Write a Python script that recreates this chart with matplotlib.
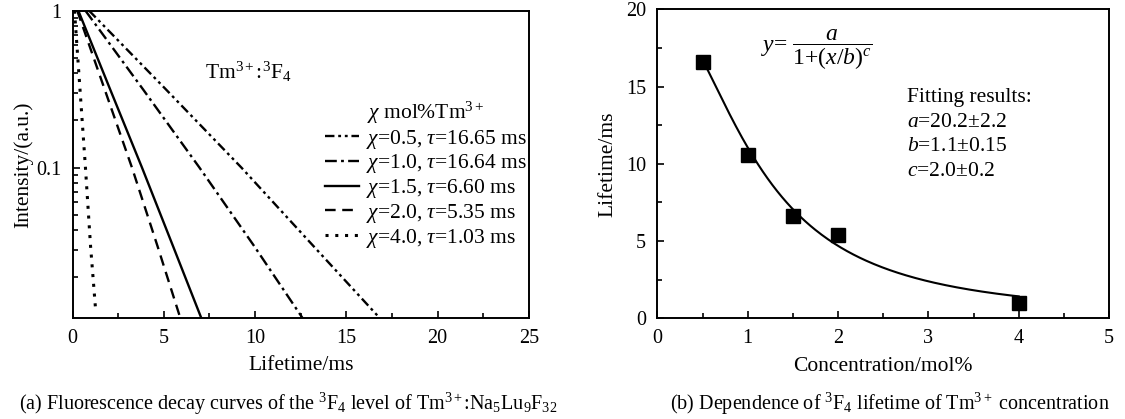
import numpy as np
import matplotlib
matplotlib.use('Agg')
import matplotlib.pyplot as plt
from matplotlib.ticker import LogLocator, NullFormatter, FixedLocator, FixedFormatter, MultipleLocator

plt.rcParams['font.family'] = ['Liberation Serif', 'DejaVu Serif']
plt.rcParams['mathtext.fontset'] = 'custom'
plt.rcParams['mathtext.rm'] = 'Liberation Serif'
plt.rcParams['mathtext.it'] = 'Liberation Serif:italic'
plt.rcParams['mathtext.bf'] = 'Liberation Serif:bold'
plt.rcParams['font.size'] = 15.5
plt.rcParams['xtick.labelsize'] = 14.5
plt.rcParams['ytick.labelsize'] = 14.5
plt.rcParams['axes.linewidth'] = 1.4

# decay curves: time (ms) at each intensity level
levels = [1.0, 0.316, 0.1, 0.0316, 0.011]
levels_x4 = [1.0, 0.316, 0.1, 0.0316, 0.0123]
t_x05 = [0.9, 5.1, 9.25, 13.2, 16.83]
t_x10 = [0.7, 3.85, 6.95, 9.95, 12.6]
t_x15 = [0.31, 2.05, 3.8, 5.5, 7.05]
t_x20 = [0.25, 1.75, 3.25, 4.65, 5.9]
t_x40 = [0.1, 0.4, 0.7, 0.98, 1.26]
decay_labels = [r'$\chi$=0.5, $\tau$=16.65 ms',
                r'$\chi$=1.0, $\tau$=16.64 ms',
                r'$\chi$=1.5, $\tau$=6.60 ms',
                r'$\chi$=2.0, $\tau$=5.35 ms',
                r'$\chi$=4.0, $\tau$=1.03 ms']

# lifetime vs concentration
conc = [0.5, 1.0, 1.5, 2.0, 4.0]
lifetime = [16.6, 10.6, 6.6, 5.4, 1.0]
fit_a, fit_b, fit_c = 20.2, 1.1, 2.0

fig = plt.figure(figsize=(11.25, 4.19), dpi=100)
ax1 = fig.add_axes([0.0646, 0.241, 0.4054, 0.7335])
ax2 = fig.add_axes([0.5843, 0.2403, 0.4015, 0.7375])

styles = [(0, (4, 1.6, 1.2, 1.6, 1.2, 1.6)),
          (0, (5, 1.8, 1.2, 1.8)),
          '-',
          (0, (4.5, 2.8)),
          (0, (1, 2.2))]
widths = [1.7, 1.7, 1.7, 1.7, 2.2]
curves = [(t_x05, levels), (t_x10, levels), (t_x15, levels),
          (t_x20, levels), (t_x40, levels_x4)]
for (t, I), ls, w, lab in zip(curves, styles, widths, decay_labels):
    ax1.plot(t, I, color='black', lw=w, linestyle=ls, label=lab)

ax1.set_yscale('log')
ax1.set_xlim(0, 25)
ax1.set_ylim(0.011, 1)
ax1.yaxis.set_major_locator(FixedLocator([0.1, 1]))
ax1.yaxis.set_major_formatter(FixedFormatter(['0.1', '1']))
ax1.yaxis.set_minor_locator(LogLocator(base=10, subs=np.arange(2, 10)))
ax1.yaxis.set_minor_formatter(NullFormatter())
ax1.xaxis.set_major_locator(MultipleLocator(5))
ax1.xaxis.set_minor_locator(MultipleLocator(2.5))
ax1.set_xlabel('Lifetime/ms', labelpad=6)
ax1.set_ylabel('Intensity/(a.u.)', labelpad=2)

ax1.text(7.25, 0.406, r'Tm$^{3+}$:$^3$F$_4$', ha='left', va='center')
leg = ax1.legend(loc='upper left', bbox_to_anchor=(0.529, 0.745), frameon=False,
                 title=r'$\chi$ mol%Tm$^{3+}$', handlelength=1.6,
                 handletextpad=0.3, labelspacing=0.08, borderpad=0,
                 title_fontsize=15.5, fontsize=15.5)

# fitted curve from the stated parameters
xf = np.linspace(conc[0], conc[-1], 200)
yf = fit_a / (1 + (xf / fit_b) ** fit_c)
ax2.plot(xf, yf, color='black', lw=1.5)
ax2.plot(conc, lifetime, 's', color='black', markersize=10)

ax2.set_xlim(0, 5)
ax2.set_ylim(0, 20)
ax2.xaxis.set_major_locator(MultipleLocator(1))
ax2.xaxis.set_minor_locator(MultipleLocator(0.5))
ax2.yaxis.set_major_locator(MultipleLocator(5))
ax2.yaxis.set_minor_locator(MultipleLocator(2.5))
ax2.set_xlabel('Concentration/mol%', labelpad=6)
ax2.set_ylabel('Lifetime/ms', labelpad=6)

ax2.text(1.15, 17.4, r'$y$= $\dfrac{a}{1{+}(x/b)^{c}}$', ha='left', va='center',
         fontsize=17)
ax2.text(2.76, 14.3, 'Fitting results:', ha='left', va='center')
ax2.text(2.76, 12.7, r'$a$=20.2±2.2', ha='left', va='center')
ax2.text(2.76, 11.1, r'$b$=1.1±0.15', ha='left', va='center')
ax2.text(2.76, 9.5, r'$c$=2.0±0.2', ha='left', va='center')

for ax in (ax1, ax2):
    ax.tick_params(which='both', direction='in', top=False, right=False, width=1.2)
    ax.tick_params(which='major', length=5, pad=8)
    ax.tick_params(which='minor', length=3.5)

fig.text(0.256, 0.036,
         r'(a) Fluorescence decay curves of the $^3$F$_4$ level of Tm$^{3+}$:Na$_5$Lu$_9$F$_{32}$',
         ha='center', va='center', fontsize=14.5)
fig.text(0.791, 0.036,
         r'(b) Dependence of $^3$F$_4$ lifetime of Tm$^{3+}$ concentration',
         ha='center', va='center', fontsize=14.5)

fig.savefig('out.png', dpi=100, facecolor='white')
